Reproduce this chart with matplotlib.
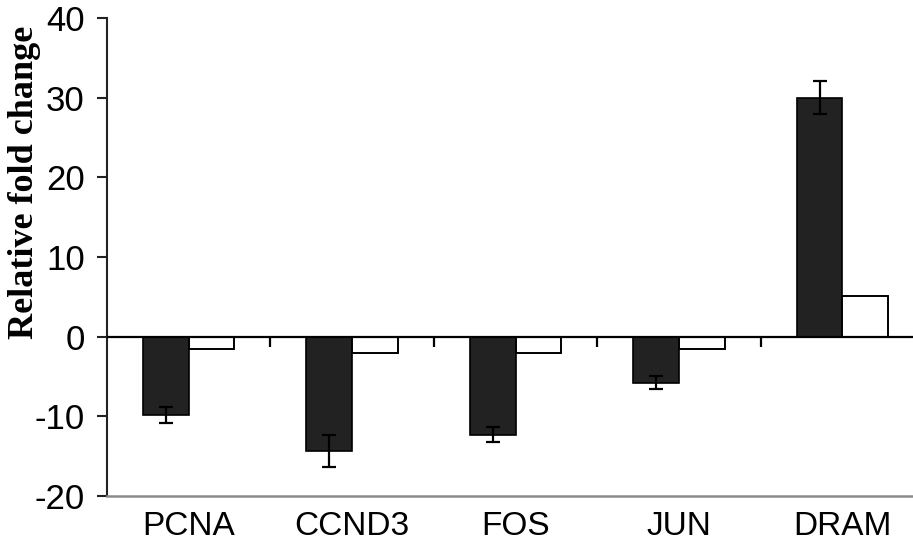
import numpy as np
import matplotlib.pyplot as plt

# Fold change per gene, two conditions (dark bars carry SD error bars)
genes = ["PCNA", "CCND3", "FOS", "JUN", "DRAM"]
fold_dark = [-9.8, -14.3, -12.3, -5.8, 30.0]
err_dark = [1.0, 2.0, 0.9, 0.8, 2.1]
fold_light = [-1.6, -2.1, -2.1, -1.6, 5.1]

plt.rcParams['font.family'] = ['Liberation Sans', 'DejaVu Sans']
plt.rcParams['axes.unicode_minus'] = False

fig = plt.figure(figsize=(9.13, 5.46), dpi=100)
# plot area runs a little past the right edge of the figure
ax = fig.add_axes([0.1172, 0.0916, 0.895, 0.8755])

x = np.arange(len(genes))
w = 0.28
ax.bar(x - w / 2, fold_dark, w, color="#222222", edgecolor="black", linewidth=1.2,
       yerr=err_dark, error_kw=dict(ecolor="black", elinewidth=1.6, capsize=5, capthick=1.6),
       zorder=3)
ax.bar(x + w / 2, fold_light, w, color="white", edgecolor="black", linewidth=1.4, zorder=3)

# zero line with category separators hanging below it
ax.axhline(0, color="black", linewidth=1.6, zorder=4)
bounds = np.arange(len(genes) + 1) - 0.5
ax.vlines(bounds[1:], -1.25, 0, color="black", linewidth=1.6, zorder=4)

ax.set_xlim(-0.5, len(genes) - 0.5)
ax.set_ylim(-20, 40)
ax.set_yticks(np.arange(-20, 41, 10))
ax.set_xticks(x)
ax.set_xticklabels(genes)

for s in ["top", "right"]:
    ax.spines[s].set_visible(False)
ax.spines["left"].set_linewidth(1.5)
ax.spines["left"].set_color("#222222")
ax.spines["bottom"].set_linewidth(1.8)
ax.spines["bottom"].set_color("#8a8a8a")

ax.tick_params(axis="y", direction="out", length=7, width=1.5, pad=9, labelsize=25,
               color="#222222")
ax.tick_params(axis="x", length=0, pad=11, labelsize=24)

fig.text(25 / 913, 1 - 182 / 546, "Relative fold change", rotation=90,
         ha="center", va="center", fontsize=26, fontweight="bold",
         family=["Liberation Serif", "DejaVu Serif"])

fig.savefig("out.png", dpi=100)
